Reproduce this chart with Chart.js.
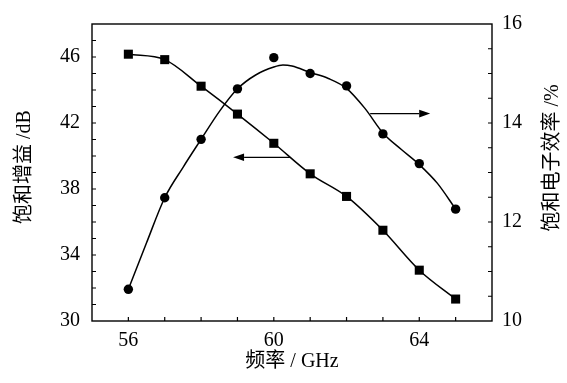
<!DOCTYPE html>
<html>
<head>
<meta charset="utf-8">
<script src="https://cdn.jsdelivr.net/npm/chart.js@4.4.0/dist/chart.umd.min.js"></script>
<style>
  html, body { margin: 0; padding: 0; background: #fff; }
  #wrap { width: 567px; height: 383px; }
</style>
</head>
<body>
<div id="wrap"><canvas id="c" width="567" height="383"></canvas></div>
<script>
// Measured frequency points (GHz)
const frequencies = [56, 57, 58, 59, 60, 61, 62, 63, 64, 65];
// Saturated gain (dB), left axis
const gainDb = [46.17, 45.84, 44.23, 42.54, 40.77, 38.92, 37.55, 35.5, 33.08, 31.33];
// Saturated electronic efficiency (%), right axis
const efficiencyPct = [10.64, 12.49, 13.67, 14.69, 15.32, 15.0, 14.75, 13.78, 13.18, 12.26];
// Smoothed efficiency trend
const fitFrequencies = [56, 56.5, 57, 57.5, 58, 58.5, 59, 59.5, 60, 60.25, 60.5, 61, 61.5, 62, 62.5, 63, 63.5, 64, 64.5, 65];
const efficiencyFit = [10.64, 11.58, 12.49, 13.10, 13.67, 14.23, 14.69, 14.97, 15.13, 15.17, 15.15, 15.02, 14.90, 14.70, 14.30, 13.80, 13.47, 13.16, 12.78, 12.26];

// Tick labels shown on each axis
const freqTickLabels = [56, 60, 64];
const gainTickLabels = [30, 34, 38, 42, 46];
const efficiencyTickLabels = [10, 12, 14, 16];

// Arrows pointing each curve to its axis: [x from, x to, y]
const gainArrow = [60.45, 58.88, 39.92];
const efficiencyArrow = [62.65, 64.3, 14.19];

const SERIF = "'Liberation Serif', 'Noto Sans CJK SC', serif";
const tickFont = { family: SERIF, size: 20 };

function stepTicks(min, max, step) {
  const out = [];
  for (let v = min; v <= max + 1e-9; v += step) out.push({ value: +v.toFixed(3) });
  return out;
}
function labelIf(list) {
  return (v) => (list.some(t => Math.abs(t - v) < 1e-6) ? String(v) : '');
}

const framePlugin = {
  id: 'frameTicksArrows',
  afterDraw(chart) {
    const { ctx, chartArea: a, scales } = chart;
    ctx.save();
    ctx.strokeStyle = '#000';
    ctx.fillStyle = '#000';
    ctx.lineWidth = 1.4;
    ctx.strokeRect(a.left, a.top, a.right - a.left, a.bottom - a.top);

    // inward tick marks
    const len = 4;
    ctx.lineWidth = 1.2;
    ctx.beginPath();
    scales.x.ticks.forEach(t => {
      const px = scales.x.getPixelForValue(t.value);
      if (px <= a.left + 1 || px >= a.right - 1) return;
      ctx.moveTo(px, a.bottom); ctx.lineTo(px, a.bottom - len);
    });
    scales.y.ticks.forEach(t => {
      const py = scales.y.getPixelForValue(t.value);
      if (py <= a.top + 1 || py >= a.bottom - 1) return;
      ctx.moveTo(a.left, py); ctx.lineTo(a.left + len, py);
    });
    scales.y2.ticks.forEach(t => {
      const py = scales.y2.getPixelForValue(t.value);
      if (py <= a.top + 1 || py >= a.bottom - 1) return;
      ctx.moveTo(a.right, py); ctx.lineTo(a.right - len, py);
    });
    ctx.stroke();

    // arrows
    function arrow(spec, yScale) {
      const x0 = scales.x.getPixelForValue(spec[0]);
      const x1 = scales.x.getPixelForValue(spec[1]);
      const y = yScale.getPixelForValue(spec[2]);
      const dir = Math.sign(x1 - x0);
      const head = 11, half = 3.8;
      ctx.lineWidth = 1.3;
      ctx.beginPath();
      ctx.moveTo(x0, y); ctx.lineTo(x1 - dir * head, y);
      ctx.stroke();
      ctx.beginPath();
      ctx.moveTo(x1, y);
      ctx.lineTo(x1 - dir * head, y - half);
      ctx.lineTo(x1 - dir * head, y + half);
      ctx.closePath();
      ctx.fill();
    }
    arrow(gainArrow, scales.y);
    arrow(efficiencyArrow, scales.y2);

    // axis titles
    ctx.font = "20px " + SERIF;
    ctx.textAlign = 'center';
    ctx.textBaseline = 'middle';
    ctx.fillText('频率 / GHz', (a.left + a.right) / 2, 362);
    ctx.save();
    ctx.translate(25, 167);
    ctx.rotate(-Math.PI / 2);
    ctx.fillText('饱和增益 /dB', 0, 0);
    ctx.restore();
    ctx.save();
    ctx.translate(553, 158);
    ctx.rotate(-Math.PI / 2);
    ctx.fillText('饱和电子效率 /%', 0, 0);
    ctx.restore();
    ctx.restore();
  }
};

new Chart(document.getElementById('c'), {
  type: 'line',
  data: {
    datasets: [
      {
        data: frequencies.map((f, i) => ({ x: f, y: gainDb[i] })),
        yAxisID: 'y',
        borderColor: '#000',
        backgroundColor: '#000',
        borderWidth: 1.5,
        pointStyle: 'rect',
        pointRadius: 6.4,
        pointBorderWidth: 0,
        cubicInterpolationMode: 'monotone'
      },
      {
        data: frequencies.map((f, i) => ({ x: f, y: efficiencyPct[i] })),
        yAxisID: 'y2',
        showLine: false,
        borderColor: '#000',
        backgroundColor: '#000',
        pointStyle: 'circle',
        pointRadius: 4.7,
        pointBorderWidth: 0
      },
      {
        data: fitFrequencies.map((f, i) => ({ x: f, y: efficiencyFit[i] })),
        yAxisID: 'y2',
        borderColor: '#000',
        borderWidth: 1.5,
        pointRadius: 0,
        cubicInterpolationMode: 'monotone'
      }
    ]
  },
  options: {
    responsive: false,
    animation: false,
    layout: { padding: { top: 22, left: 0, right: 0, bottom: 0 } },
    plugins: { legend: { display: false }, tooltip: { enabled: false } },
    scales: {
      x: {
        type: 'linear', min: 55, max: 66, position: 'bottom',
        grid: { display: false, drawTicks: false },
        border: { display: false },
        afterBuildTicks: s => { s.ticks = stepTicks(55, 66, 1); },
        ticks: { color: '#000', font: tickFont, padding: 8, maxRotation: 0, autoSkip: false, callback: labelIf(freqTickLabels) },
        afterFit: s => { s.height = 62; }
      },
      y: {
        type: 'linear', min: 30, max: 48, position: 'left',
        grid: { display: false, drawTicks: false },
        border: { display: false },
        afterBuildTicks: s => { s.ticks = stepTicks(30, 48, 1); },
        ticks: { color: '#000', font: tickFont, padding: 12, autoSkip: false, callback: labelIf(gainTickLabels) },
        afterFit: s => { s.width = 92; }
      },
      y2: {
        type: 'linear', min: 10, max: 16, position: 'right',
        grid: { display: false, drawTicks: false },
        border: { display: false },
        afterBuildTicks: s => { s.ticks = stepTicks(10, 16, 0.5); },
        ticks: { color: '#000', font: tickFont, padding: 10, autoSkip: false, callback: labelIf(efficiencyTickLabels) },
        afterFit: s => { s.width = 75; }
      }
    }
  },
  plugins: [framePlugin]
});
</script>
</body>
</html>
